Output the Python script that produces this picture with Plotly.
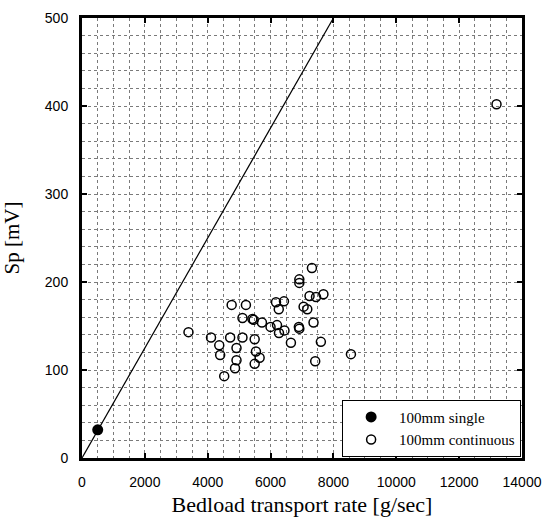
import plotly.graph_objects as go

# Data
single_x = [500]
single_y = [32]

cont_x = [3388, 4105, 4367, 4396, 4525, 4714, 4762, 4869, 4916, 4916,
          5106, 5106, 5216, 5422, 5463, 5494, 5535, 5652, 5494, 5725,
          5999, 6173, 6205, 6261, 6268, 6426, 6442, 6647, 6915, 6915,
          6900, 6915, 7051, 7168, 7240, 7316, 7367, 7446, 7420, 7600,
          7682, 8557, 13189]
cont_y = [143, 137, 128, 117, 93, 137, 174, 102, 125, 111,
          137, 159, 174, 158, 157, 135, 121, 114, 107, 154,
          149, 177, 151, 169, 142, 178, 145, 131, 203, 199,
          149, 147, 172, 169, 184, 216, 154, 183, 110, 132,
          186, 118, 402]

line_x = [0, 8000]
line_y = [0, 500]

x_ticks = [0, 2000, 4000, 6000, 8000, 10000, 12000, 14000]
x_tick_text = ["0", "2000", "4000", "6000", "8000", "10000", "12000", "14000"]
y_ticks = [0, 100, 200, 300, 400, 500]
y_tick_text = ["0", "100", "200", "300", "400", "500"]

fig = go.Figure()
fig.add_trace(go.Scatter(x=line_x, y=line_y, mode="lines",
                         line=dict(color="black", width=1.2),
                         showlegend=False, hoverinfo="skip"))
fig.add_trace(go.Scatter(x=cont_x, y=cont_y, mode="markers", name="100mm continuous",
                         marker=dict(symbol="circle-open", size=9, color="black",
                                     line=dict(width=1.5, color="black"))))
fig.add_trace(go.Scatter(x=single_x, y=single_y, mode="markers", name="100mm single",
                         marker=dict(symbol="circle", size=11, color="black")))

gridc = "#7a7a7a"
fig.update_xaxes(range=[0, 14000], tickvals=x_ticks, ticktext=x_tick_text,
                 showgrid=True, gridcolor=gridc, gridwidth=1, griddash="dot",
                 minor=dict(dtick=500, showgrid=True, gridcolor=gridc, gridwidth=1, griddash="dot"),
                 ticks="inside", ticklen=5, tickwidth=1.5, tickcolor="black",
                 showline=True, linecolor="black", linewidth=3, mirror="ticks",
                 zeroline=False, automargin=False, ticklabelstandoff=9,
                 tickfont=dict(family="Liberation Sans", size=14, color="black"),
                 title=dict(text="Bedload transport rate [g/sec]",
                            font=dict(family="Liberation Serif", size=22, color="black"),
                            standoff=8))
fig.update_yaxes(range=[0, 500], tickvals=y_ticks, ticktext=y_tick_text,
                 showgrid=True, gridcolor=gridc, gridwidth=1, griddash="dot",
                 minor=dict(dtick=20, showgrid=True, gridcolor=gridc, gridwidth=1, griddash="dot"),
                 ticks="inside", ticklen=5, tickwidth=1.5, tickcolor="black",
                 showline=True, linecolor="black", linewidth=3, mirror="ticks",
                 zeroline=False, automargin=False, ticklabelstandoff=8,
                 tickfont=dict(family="Liberation Sans", size=14, color="black"),
                 title=dict(text="Sp [mV]",
                            font=dict(family="Liberation Serif", size=21, color="black"),
                            standoff=25))

fig.update_layout(
    width=544, height=519,
    margin=dict(l=82, r=22, t=18, b=61),
    paper_bgcolor="white", plot_bgcolor="white",
    legend=dict(x=0.998, y=0.003, xanchor="right", yanchor="bottom",
                bgcolor="white", bordercolor="black", borderwidth=1,
                traceorder="reversed", itemwidth=46,
                entrywidth=172, entrywidthmode="pixels",
                font=dict(family="Liberation Serif", size=15, color="black")),
)

fig.write_html("out.html", config={"displayModeBar": False},
               post_script="document.body.style.margin='0';document.body.style.overflow='hidden';")
